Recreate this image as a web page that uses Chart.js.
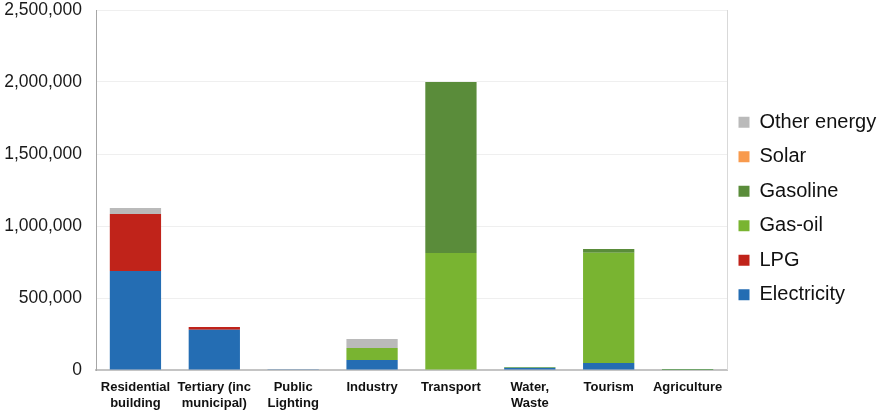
<!DOCTYPE html>
<html>
<head>
<meta charset="utf-8">
<script src="https://cdn.jsdelivr.net/npm/chart.js@4.4.1/dist/chart.umd.min.js"></script>
<style>
  html, body { margin: 0; padding: 0; background: #fff; }
  #wrap { width: 882px; height: 415px; position: relative; }
</style>
</head>
<body>
<div id="wrap"><canvas id="mycanvas"></canvas></div>
<script>
// sectors on the x axis
var sectors = [
    ['Residential', 'building'],
    ['Tertiary (inc', 'municipal)'],
    ['Public', 'Lighting'],
    'Industry',
    'Transport',
    ['Water,', 'Waste'],
    'Tourism',
    'Agriculture'
];

// energy use per source
var electricity = [687000, 280000, 5000, 70000, 0, 15000, 48000, 2000];
var lpg         = [396000, 19000, 0, 0, 0, 0, 0, 0];
var gasOil      = [0, 0, 0, 83000, 812000, 5000, 767000, 5000];
var gasoline    = [0, 0, 0, 0, 1188000, 0, 25000, 0];
var solar       = [0, 0, 0, 0, 0, 0, 0, 0];
var otherEnergy = [42000, 0, 0, 62000, 0, 0, 0, 0];

var yTicks = [0, 500000, 1000000, 1500000, 2000000, 2500000];

function ds(label, data, color) {
    return {
        label: label,
        data: data,
        backgroundColor: color,
        borderWidth: 0,
        categoryPercentage: 1,
        barPercentage: 0.65
    };
}

// fix legend width so the plot ends where the reference does,
// then nudge it a little up/left
var legendWidth = {
    id: 'legendWidth',
    beforeLayout: function(chart) {
        var lg = chart.legend;
        if (lg && !lg._patched) {
            var f = lg.fit;
            lg.fit = function() {
                f.call(this);
                this.width = 155;
            };
            lg._patched = true;
        }
    },
    afterLayout: function(chart) {
        var lg = chart.legend;
        if (!lg) return;
        lg.top -= 4; lg.bottom -= 4;
        lg.left -= 3; lg.right -= 3;
    }
};

// thin frame line on the right side of the plot
var rightEdge = {
    id: 'rightEdge',
    afterDraw: function(chart) {
        var a = chart.chartArea, ctx = chart.ctx;
        ctx.save();
        ctx.strokeStyle = '#d9d9d9';
        ctx.lineWidth = 1;
        ctx.beginPath();
        ctx.moveTo(a.right + 0.5, a.top);
        ctx.lineTo(a.right + 0.5, a.bottom);
        ctx.stroke();
        ctx.restore();
    }
};

var ctx = document.getElementById('mycanvas');
var myChart = new Chart(ctx, {
    type: 'bar',
    data: {
        labels: sectors,
        datasets: [
            ds('Electricity', electricity, '#246db3'),
            ds('LPG', lpg, '#c0231a'),
            ds('Gas-oil', gasOil, '#79b431'),
            ds('Gasoline', gasoline, '#5a8c3a'),
            ds('Solar', solar, '#f89a4d'),
            ds('Other energy', otherEnergy, '#bababa')
        ]
    },
    plugins: [legendWidth, rightEdge],
    options: {
        responsive: true,
        maintainAspectRatio: false,
        animation: false,
        layout: { padding: { top: 10, left: 0, right: 0, bottom: 0 } },
        plugins: {
            tooltip: { enabled: false },
            legend: {
                position: 'right',
                reverse: true,
                labels: {
                    boxWidth: 11,
                    boxHeight: 11,
                    padding: 14.5,
                    color: '#111',
                    font: { family: 'Liberation Sans, Arial', size: 20 }
                }
            }
        },
        scales: {
            x: {
                stacked: true,
                afterFit: function(scale) { scale.height = 45; },
                grid: { display: false, drawTicks: false },
                border: { display: true, color: '#c4c4c4', width: 2 },
                ticks: {
                    padding: 9,
                    color: '#111',
                    maxRotation: 0,
                    autoSkip: false,
                    font: { family: 'Liberation Sans, Arial', size: 13, weight: 'bold', lineHeight: 1.23 }
                }
            },
            y: {
                stacked: true,
                min: 0,
                max: 2500000,
                afterFit: function(scale) {
                    scale.width = 96;
                    scale.paddingTop = 0;
                    scale.paddingBottom = 0;
                },
                afterBuildTicks: function(scale) {
                    scale.ticks = yTicks.map(function(v) { return { value: v }; });
                },
                grid: { color: '#efefef', lineWidth: 1, drawTicks: false },
                border: { display: true, color: '#a6a6a6', width: 1 },
                ticks: {
                    padding: 14,
                    color: '#1a1a1a',
                    font: { family: 'Liberation Sans, Arial', size: 17.5, lineHeight: 1.0 },
                    callback: function(v) { return v.toLocaleString('en-US'); }
                }
            }
        }
    }
});
</script>
</body>
</html>
